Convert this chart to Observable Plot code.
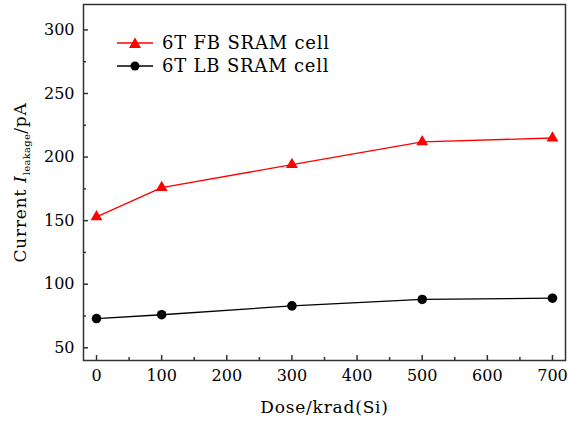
<!DOCTYPE html>
<html><head><meta charset="utf-8">
<script src="https://cdn.jsdelivr.net/npm/d3@7"></script>
<script src="https://cdn.jsdelivr.net/npm/@observablehq/plot@0.6"></script>
<style>
body{margin:0;background:#fff;}
#wrap{position:relative;width:568px;height:423px;}
#legend{position:absolute;left:117px;top:31px;font-family:"DejaVu Serif",serif;font-size:18px;letter-spacing:0.8px;color:#000;line-height:23px;}
#legend div{display:flex;align-items:center;height:23px;}
#legend svg{margin-right:9px;}
</style></head><body>
<div id="wrap"><div id="legend"></div></div>
<script>
const doses = [0, 100, 300, 500, 700];
const fbValues = [153, 176, 194, 212, 215];
const lbValues = [73, 76, 83, 88, 89];
const seriesNames = ["6T FB SRAM cell", "6T LB SRAM cell"];
const xTicks = [0, 100, 200, 300, 400, 500, 600, 700];
const xMinor = [50, 150, 250, 350, 450, 550, 650];
const yTicks = [50, 100, 150, 200, 250, 300];
const yMinor = [75, 125, 175, 225, 275];

const fb = doses.map((d, i) => ({dose: d, value: fbValues[i]}));
const lb = doses.map((d, i) => ({dose: d, value: lbValues[i]}));

const font = "DejaVu Serif";
const plot = Plot.plot({
  width: 568, height: 423,
  marginLeft: 83, marginRight: 3, marginTop: 4, marginBottom: 63,
  style: {fontFamily: font, fontSize: "16px", color: "#000", background: "#fff"},
  x: {domain: [-20, 720]},
  y: {domain: [40, 320]},
  marks: [
    Plot.frame({stroke: "#333", strokeWidth: 1.5}),
    Plot.axisX({ticks: xTicks, tickSize: -5, text: null, label: null, stroke: "#333", strokeWidth: 1.5}),
    Plot.axisX({ticks: xMinor, tickSize: -3, text: null, label: null, stroke: "#333", strokeWidth: 1.5}),
    Plot.axisX({ticks: xTicks, tickSize: 0, tickPadding: 9, label: "Dose/krad(Si)", labelAnchor: "center", labelArrow: "none", labelOffset: 52, fontSize: 16}),
    Plot.axisY({ticks: yTicks, tickSize: -5, text: null, label: null, stroke: "#333", strokeWidth: 1.5}),
    Plot.axisY({ticks: yMinor, tickSize: -3, text: null, label: null, stroke: "#333", strokeWidth: 1.5}),
    Plot.axisY({ticks: yTicks, tickSize: 0, tickPadding: 9, label: "Current I leakage/pA", labelAnchor: "center", labelArrow: "none", labelOffset: 70, fontSize: 16}),
    Plot.line(fb, {x: "dose", y: "value", stroke: "#ff0000", strokeWidth: 1.3}),
    Plot.dot(fb, {x: "dose", y: "value", symbol: "triangle", r: 4.4, fill: "#ff0000", stroke: "none"}),
    Plot.line(lb, {x: "dose", y: "value", stroke: "#000", strokeWidth: 1.3}),
    Plot.dot(lb, {x: "dose", y: "value", symbol: "circle", r: 4.8, fill: "#000", stroke: "none"})
  ]
});
document.getElementById("wrap").prepend(plot);

d3.select(plot).selectAll("text").each(function() {
  const t = d3.select(this);
  const s = t.text();
  if (s === "Current I leakage/pA") {
    t.text("").attr("font-size", 17).attr("letter-spacing", "0.8px");
    t.append("tspan").text("Current ");
    t.append("tspan").attr("font-style", "italic").text("I");
    t.append("tspan").attr("font-size", "10px").attr("letter-spacing", "0.3px").attr("dy", "4").text("leakage");
    t.append("tspan").attr("dy", "-4").text("/pA");
  } else if (s === "Dose/krad(Si)") {
    t.attr("font-size", 17).attr("letter-spacing", "0.8px");
  }
});

const legend = d3.select("#legend");
const colors = ["#ff0000", "#000"];
seriesNames.forEach((name, i) => {
  const row = legend.append("div");
  const s = row.append("svg").attr("width", 36).attr("height", 14);
  s.append("line").attr("x1", 0).attr("x2", 36).attr("y1", 7).attr("y2", 7).attr("stroke", colors[i]).attr("stroke-width", 1.3);
  if (i === 0) s.append("path").attr("d", "M18,1.5L24,12L12,12Z").attr("fill", colors[i]);
  else s.append("circle").attr("cx", 18).attr("cy", 7).attr("r", 4.5).attr("fill", colors[i]);
  row.append("span").text(name);
});
</script>
</body></html>
